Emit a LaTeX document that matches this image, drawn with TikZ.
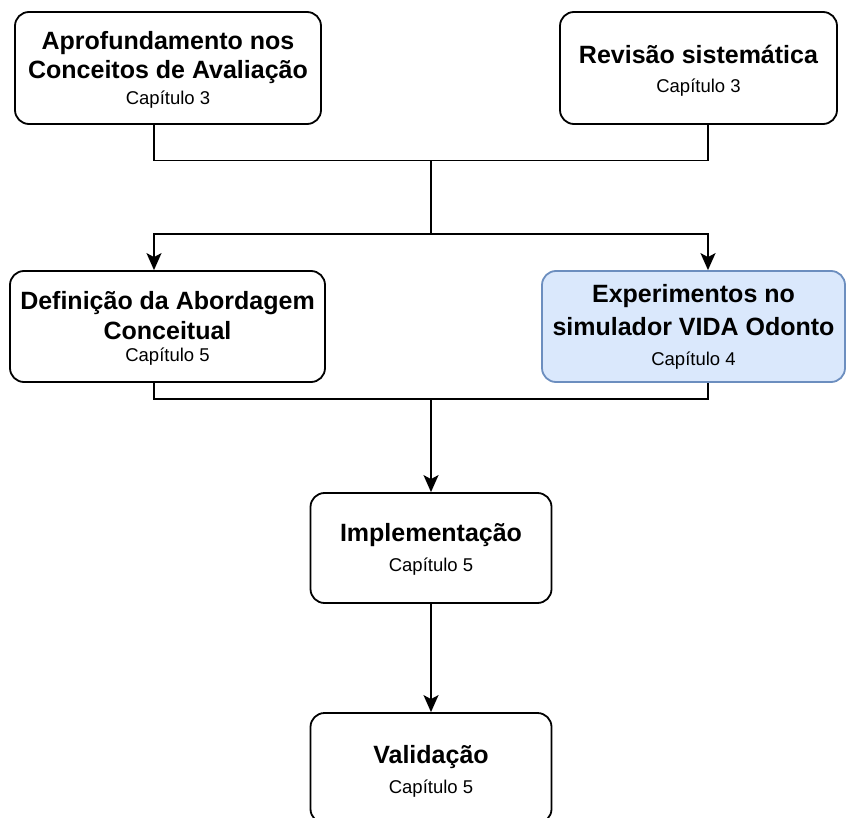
\documentclass[tikz,border=0pt]{standalone}
\usepackage{fontspec}
\setmainfont{Liberation Sans}
\usetikzlibrary{arrows.meta}
\definecolor{expfill}{HTML}{DAE8FC}
\definecolor{expline}{HTML}{6C8EBF}
\newcommand{\stagetitle}{\fontsize{25}{28}\selectfont\bfseries}
\newcommand{\stagecap}{\fontsize{18.5}{22}\selectfont\mdseries}
\tikzset{
  stage/.style={draw, line width=1.8pt, rounded corners=14pt, align=center, inner sep=0pt, font=\stagetitle},
  lastbase/.style={text height=#1, text depth=0pt},
  flow/.style={line width=1.8pt},
  flowarrow/.style={flow, -{Stealth[length=17pt,width=15pt,inset=4pt]}},
}
\begin{document}
\begin{tikzpicture}[x=1pt,y=-1pt]
\useasboundingbox (0,0) rectangle (846,818);
\node[stage, lastbase=74pt, minimum width=306pt, minimum height=112pt] (aprof) at (168,68)
  {Aprofundamento nos\\[0.3pt]Conceitos de Avaliação\\[-1.3pt]\stagecap Capítulo 3};
\node[stage, lastbase=49.4pt, minimum width=277pt, minimum height=112pt] (revisao) at (698.5,68)
  {Revisão sistemática\\[1.4pt]\stagecap Capítulo 3};
\node[stage, lastbase=70.4pt, minimum width=315pt, minimum height=111pt] (defin) at (167.5,326.5)
  {Definição da Abordagem\\[1.3pt]Conceitual\\[-5.6pt]\stagecap Capítulo 5};
\node[stage, lastbase=78.4pt, draw=expline, fill=expfill, minimum width=303pt, minimum height=111pt] (exper) at (693.5,326.5)
  {Experimentos no\\[4pt]simulador VIDA Odonto\\[2.7pt]\stagecap Capítulo 4};
\node[stage, lastbase=47.4pt, minimum width=241pt, minimum height=110pt] (impl) at (431,548)
  {Implementação\\[2pt]\stagecap Capítulo 5};
\node[stage, lastbase=50.6pt, minimum width=241pt, minimum height=110pt] (valid) at (431,768)
  {Validação\\[2pt]\stagecap Capítulo 5};
\coordinate (lx) at (154,0);
\coordinate (rx) at (708,0);
\coordinate (j1) at (431,160.5);
\coordinate (j2) at (431,234);
\coordinate (j3) at (431,399);
\draw[flow] (aprof.south -| lx) |- (j1) -| (revisao.south -| rx);
\draw[flow] (j1) -- (j2);
\draw[flowarrow] (j2) -| (defin.north -| lx);
\draw[flowarrow] (j2) -| (exper.north -| rx);
\draw[flow] (defin.south -| lx) |- (j3) -| (exper.south -| rx);
\draw[flowarrow] (j3) -- (impl.north);
\draw[flowarrow] (impl) -- (valid);
\end{tikzpicture}
\end{document}
